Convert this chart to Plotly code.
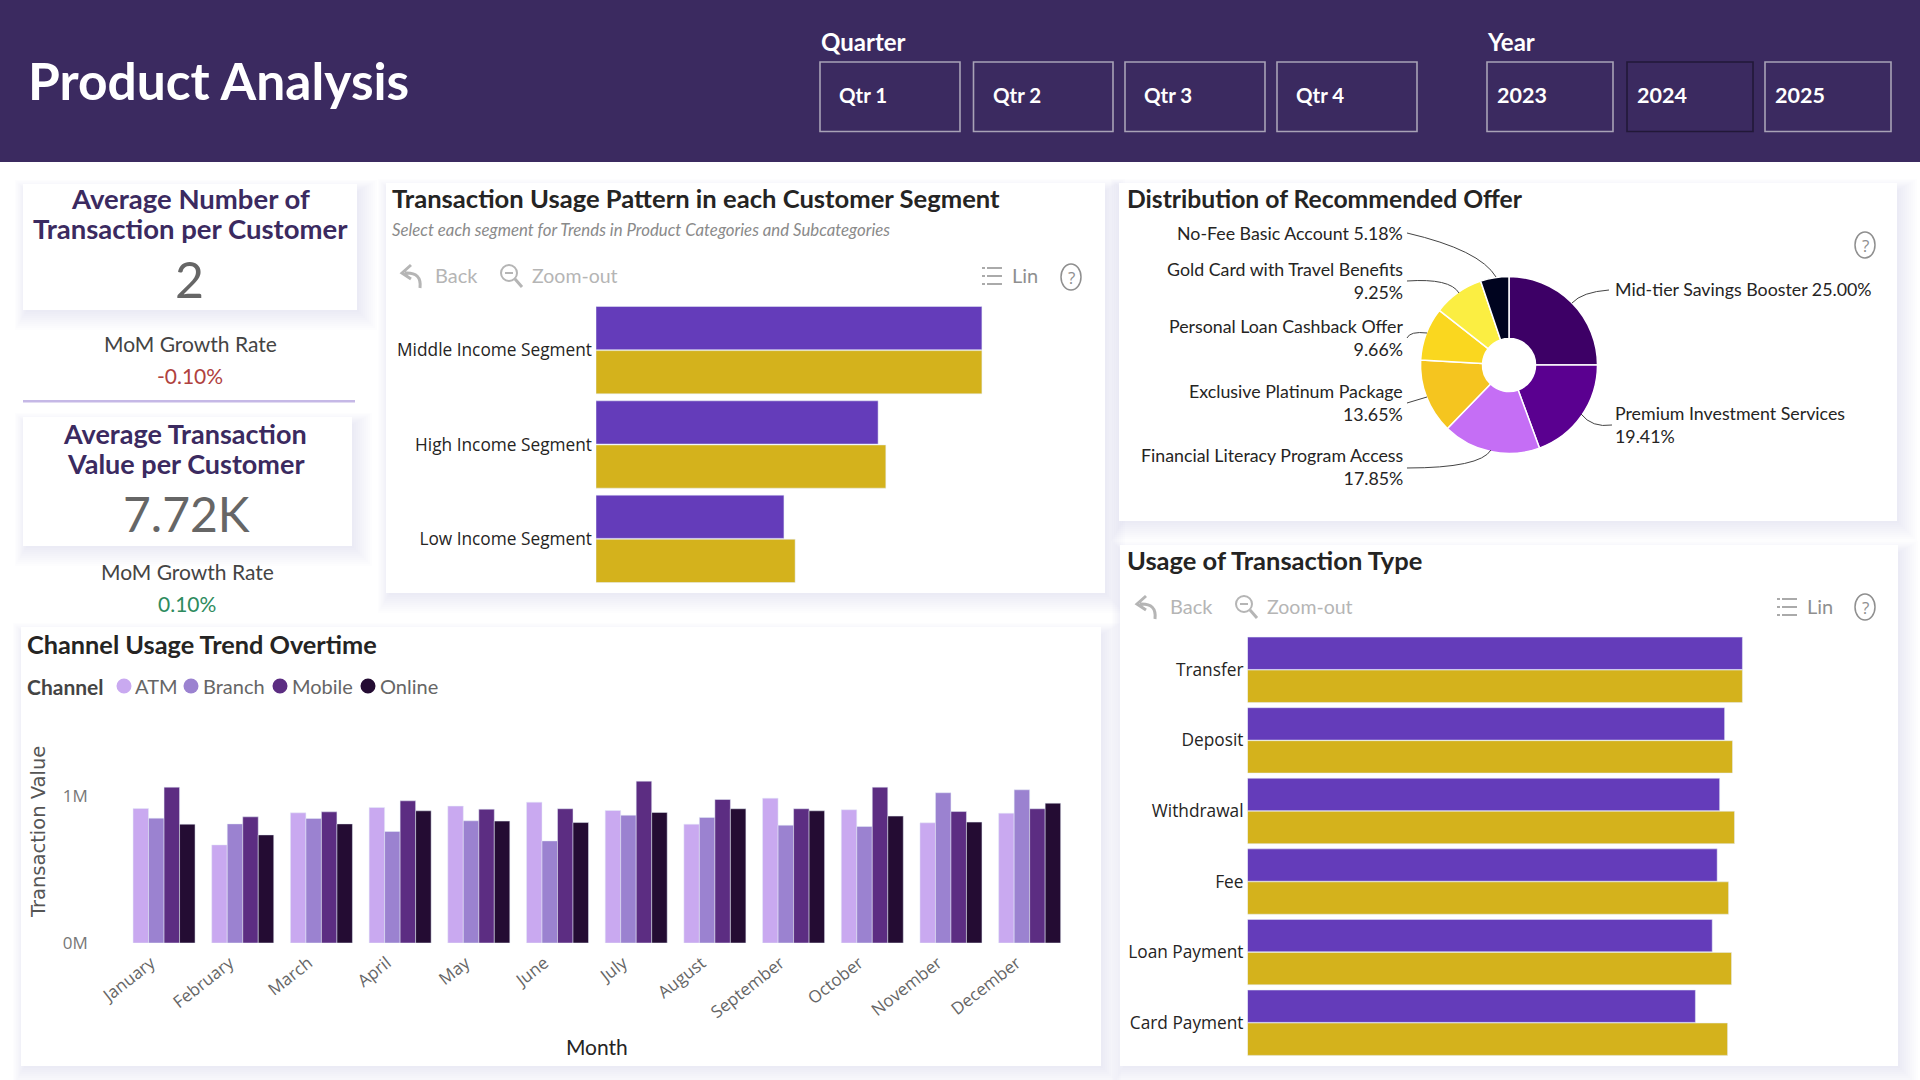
import plotly.graph_objects as go

W, H = 1920, 1080

# ---------- data ----------
segments = ["Middle Income Segment", "High Income Segment", "Low Income Segment"]
segment_primary = [100.0, 73.1, 48.7]
segment_secondary = [100.0, 75.1, 51.6]

txn_types = ["Transfer", "Deposit", "Withdrawal", "Fee", "Loan Payment", "Card Payment"]
txn_primary = [100.0, 96.4, 95.4, 94.9, 93.9, 90.5]
txn_secondary = [100.0, 98.0, 98.4, 97.2, 97.8, 97.0]

offers = ["Mid-tier Savings Booster", "Premium Investment Services",
          "Financial Literacy Program Access", "Exclusive Platinum Package",
          "Personal Loan Cashback Offer", "Gold Card with Travel Benefits",
          "No-Fee Basic Account"]
offer_share = [25.00, 19.41, 17.85, 13.65, 9.66, 9.25, 5.18]
offer_colors = ["#3d0066", "#5a0090", "#c56ef5", "#f5c51f", "#fad71f", "#fbee42", "#00041f"]

months = ["January", "February", "March", "April", "May", "June", "July",
          "August", "September", "October", "November", "December"]
atm = [916000, 668000, 886000, 923000, 932000, 959000, 902000, 809000, 986000, 907000, 818000, 884000]
branch = [850000, 811000, 848000, 759000, 832000, 695000, 870000, 855000, 802000, 793000, 1023000, 1043000]
mobile = [1061000, 859000, 893000, 968000, 911000, 914000, 1102000, 977000, 914000, 1061000, 895000, 914000]
online = [809000, 736000, 811000, 900000, 830000, 820000, 889000, 914000, 900000, 864000, 823000, 952000]
channels = ["ATM", "Branch", "Mobile", "Online"]
channel_colors = ["#c9a9f0", "#9b82d0", "#5c2d82", "#240c33"]

quarters = ["Qtr 1", "Qtr 2", "Qtr 3", "Qtr 4"]
years = ["2023", "2024", "2025"]

# ---------- palette and fonts ----------
HEADER = "#3b2a60"
PURPLE = "#643cba"
GOLD = "#d4b21c"
INK = "#252423"
GREY = "#b5b5b5"
DIN = "Lato, sans-serif"
UI = "Open Sans, sans-serif"


def fx(x):
    return x / W


def fy(y):
    return 1 - y / H


shapes = []
annotations = []


def rect(x0, y0, x1, y1, fill=None, line=None, lw=0, layer="below"):
    shapes.append(dict(type="rect", xref="paper", yref="paper",
                       x0=fx(x0), x1=fx(x1), y0=fy(y0), y1=fy(y1),
                       fillcolor=fill or "rgba(0,0,0,0)",
                       line=dict(color=line or "rgba(0,0,0,0)", width=lw),
                       layer=layer))


def path(points, color, lw=1.0, dash="solid", layer="above"):
    """Polyline/curve given as SVG commands with coordinates in page pixels."""
    parts = []
    for cmd, *xy in points:
        coords = " ".join(f"{fx(xy[i]):.5f},{fy(xy[i + 1]):.5f}" for i in range(0, len(xy), 2))
        parts.append(f"{cmd} {coords}")
    shapes.append(dict(type="path", xref="paper", yref="paper", path=" ".join(parts),
                       line=dict(color=color, width=lw, dash=dash), layer=layer))


def circle(cx, cy, r, fill=None, line=None, lw=0, ry=None):
    ry = ry or r
    shapes.append(dict(type="circle", xref="paper", yref="paper",
                       x0=fx(cx - r), x1=fx(cx + r), y0=fy(cy + ry), y1=fy(cy - ry),
                       fillcolor=fill or "rgba(0,0,0,0)",
                       line=dict(color=line or "rgba(0,0,0,0)", width=lw), layer="above"))


def text(x, y, s, size, color=INK, font=DIN, anchor="left", bold=False, italic=False, angle=0):
    annotations.append(dict(xref="paper", yref="paper", x=fx(x), y=fy(y), text=s,
                            showarrow=False, xanchor=anchor, yanchor="middle",
                            align=anchor, textangle=angle,
                            font=dict(family=font, size=size, color=color,
                                      weight="bold" if bold else "normal",
                                      style="italic" if italic else "normal")))


def cards(boxes):
    # soft lavender drop shadows made of stacked translucent rectangles;
    # every shadow goes down first so that none of them tints a neighbouring card
    for x0, y0, x1, y1 in boxes:
        for off in (20, 18, 16, 14, 12, 10, 8, 6, 4, 2):
            rect(x0 + 4 - off * 0.6, y0 + 8 - off * 0.6, x1 + off, y1 + off,
                 fill="rgba(120,100,210,0.013)")
    for x0, y0, x1, y1 in boxes:
        rect(x0, y0, x1, y1, fill="white")


def help_icon(cx, cy):
    circle(cx, cy, 10, ry=13, line="#8f8f8f", lw=1.5)
    text(cx, cy, "?", 17, color="#8f8f8f", font=UI, anchor="center")


def toolbar(back_x, zoom_x, list_x, cy):
    path([("M", back_x + 9, cy - 11), ("L", back_x, cy - 3), ("L", back_x + 9, cy + 3),
          ("M", back_x + 3, cy - 3), ("Q", back_x + 20, cy - 4, back_x + 18, cy + 12)], GREY, 3)
    text(back_x + 31, cy - 1, "Back", 20, color=GREY)
    circle(zoom_x + 9, cy - 3, 8, line=GREY, lw=2)
    path([("M", zoom_x + 15, cy + 3), ("L", zoom_x + 22, cy + 11)], GREY, 3)
    path([("M", zoom_x + 5, cy - 3), ("L", zoom_x + 13, cy - 3)], GREY, 2)
    text(zoom_x + 30, cy - 1, "Zoom-out", 19.5, color=GREY)
    for dy in (-8, 0, 8):
        path([("M", list_x, cy + dy), ("L", list_x + 3, cy + dy),
              ("M", list_x + 5, cy + dy), ("L", list_x + 20, cy + dy)], "#8f8f8f", 1.6)
    text(list_x + 28, cy - 1, "Lin", 20, color="#8f8f8f")


# ---------- header band ----------
rect(0, 0, W, 162, fill=HEADER)
text(26, 80, "Product Analysis", 51.5, color="white", bold=True)
text(819, 41, "Quarter", 24, color="white", bold=True)
text(1485, 41, "Year", 24, color="white", bold=True)
for label, (x0, x1) in zip(quarters, [(820, 960), (973.5, 1113), (1125, 1265), (1277, 1417)]):
    rect(x0, 62, x1, 131.5, line="#a8a2b6", lw=1.6)
    text(x0 + 17, 95, label, 20.5, color="white", bold=True)
for label, (x0, x1) in zip(years, [(1487, 1613), (1627, 1753), (1765, 1891)]):
    rect(x0, 62, x1, 131.5, line="#221838" if label == "2024" else "#a8a2b6", lw=1.6)
    text(x0 + 8, 95, label, 21.5, color="white", bold=True)

# ---------- panels ----------
cards([(23, 184, 357, 310), (23, 417, 352, 546), (386, 183, 1105, 593),
       (1119, 183, 1897, 521), (21, 627, 1101, 1066), (1120, 545, 1898, 1066)])
rect(23, 400, 355, 402.5, fill="#c5b8e6")

# ---------- KPI blocks ----------
text(190, 198, "Average Number of", 27.5, color=HEADER, anchor="center", bold=True)
text(190, 228, "Transaction per Customer", 27.5, color=HEADER, anchor="center", bold=True)
text(189, 279, "2", 50, color="#666666", anchor="center")
text(190, 343, "MoM Growth Rate", 21, color="#444444", anchor="center")
text(190, 376, "-0.10%", 21, color="#b0413e", anchor="center")
text(185, 433, "Average Transaction", 27, color=HEADER, anchor="center", bold=True)
text(185, 463.5, "Value per Customer", 27, color=HEADER, anchor="center", bold=True)
text(186, 514, "7.72K", 48, color="#666666", anchor="center")
text(187, 571, "MoM Growth Rate", 21, color="#444444", anchor="center")
text(187, 603, "0.10%", 21, color="#2e8b5e", anchor="center")

# ---------- panel headings ----------
text(390, 198, "Transaction Usage Pattern in each Customer Segment", 25.6, bold=True)
text(390, 229, "Select each segment for Trends in Product Categories and Subcategories",
     16.8, color="#8a8a8a", italic=True)
text(1125, 198, "Distribution of Recommended Offer", 24.7, bold=True)
text(25, 644, "Channel Usage Trend Overtime", 25.3, bold=True)
text(1125, 560, "Usage of Transaction Type", 25.5, bold=True)

toolbar(402, 500, 982, 276)
help_icon(1071, 277)
toolbar(1137, 1235, 1777, 607)
help_icon(1865, 607)
help_icon(1865, 245)

# ---------- channel legend ----------
text(25, 686, "Channel", 21, color="#444444", bold=True)
for name, color, mx, tx in zip(channels, channel_colors, [124, 191, 280, 368], [133, 201, 290, 378]):
    circle(mx, 686, 7.5, fill=color)
    text(tx, 686, name, 20, color="#666666")

# value-axis caption for the monthly chart
text(38, 832, "Transaction Value", 19.5, color="#555555", font="DejaVu Sans, sans-serif",
     anchor="center", angle=-90)

fig = go.Figure()

# ---------- customer segment bars ----------
fig.add_bar(y=segments, x=segment_primary, orientation="h", marker_color=PURPLE,
            xaxis="x", yaxis="y", showlegend=False)
fig.add_bar(y=segments, x=segment_secondary, orientation="h", marker_color=GOLD,
            xaxis="x", yaxis="y", showlegend=False)

# ---------- transaction type bars ----------
fig.add_bar(y=txn_types, x=txn_primary, orientation="h", marker_color=PURPLE,
            xaxis="x2", yaxis="y2", showlegend=False)
fig.add_bar(y=txn_types, x=txn_secondary, orientation="h", marker_color=GOLD,
            xaxis="x2", yaxis="y2", showlegend=False)

# ---------- monthly channel columns ----------
# the monthly chart needs a wider category gap than the shared bargap, so it
# sets its own bar width and offset per series
col_width = 0.197
for i, (name, color, vals) in enumerate(zip(channels, channel_colors, [atm, branch, mobile, online])):
    fig.add_trace(go.Bar(x=months, y=vals, name=name, marker_color=color,
                         width=col_width, offset=(i - 2) * col_width,
                         xaxis="x3", yaxis="y3", showlegend=False))

# ---------- offer donut ----------
cx, cy, r = 1509, 365, 88.5
fig.add_trace(go.Pie(labels=offers, values=offer_share, hole=0.3, sort=False,
                     direction="clockwise", rotation=0, textinfo="none",
                     marker=dict(colors=offer_colors, line=dict(color="white", width=1.5)),
                     domain=dict(x=[fx(cx - r), fx(cx + r)], y=[fy(cy + r), fy(cy - r)]),
                     showlegend=False))

# donut callouts: wrapped flag says whether the share sits on its own line
callouts = [
    (0, 1613, 289, "left", False, [("M", 1609, 290), ("Q", 1582, 292, 1572, 303)]),
    (1, 1613, 424, "left", True, [("M", 1612, 425), ("Q", 1592, 428, 1581, 414)]),
    (2, 1405, 467, "right", True, [("M", 1407, 468), ("Q", 1480, 468, 1491, 450)]),
    (3, 1405, 402, "right", True, [("M", 1407, 403), ("L", 1427, 397)]),
    (4, 1405, 338, "right", True, [("M", 1407, 338), ("Q", 1410, 331, 1427, 333)]),
    (5, 1405, 280, "right", True, [("M", 1407, 281), ("Q", 1450, 278, 1459, 293)]),
    (6, 1405, 233, "right", False, [("M", 1407, 233), ("Q", 1480, 250, 1496, 277)]),
]
for idx, tx, ty, anchor, wrapped, leader in callouts:
    sep = "<br>" if wrapped else " "
    text(tx, ty, f"{offers[idx]}{sep}{offer_share[idx]:.2f}%", 17.8, color=INK, anchor=anchor)
    path(leader, "#444444", 1.0)

# ---------- layout ----------
hidden_x = dict(visible=False, fixedrange=True)
fig.update_layout(
    width=W, height=H, margin=dict(l=0, r=0, t=0, b=0, autoexpand=False),
    paper_bgcolor="white", plot_bgcolor="rgba(0,0,0,0)",
    barmode="group", bargap=0.065, bargroupgap=0.02,
    shapes=shapes, annotations=annotations,
    xaxis=dict(domain=[fx(596), fx(1100)], range=[0, 130.6], anchor="y", **hidden_x),
    yaxis=dict(domain=[fy(586), fy(303)], anchor="x", autorange="reversed",
               showline=False, showgrid=False, ticks="", ticklabelstandoff=3,
               tickfont=dict(family=UI, size=17.3, color=INK)),
    xaxis2=dict(domain=[fx(1247.5), fx(1830)], range=[0, 117.7], anchor="y2", **hidden_x),
    yaxis2=dict(domain=[fy(1058), fy(634.5)], anchor="x2", autorange="reversed",
                showline=False, showgrid=False, ticks="", ticklabelstandoff=3,
                tickfont=dict(family=UI, size=17.3, color=INK)),
    xaxis3=dict(domain=[fx(124.7), fx(1069)], anchor="y3", showline=False, showgrid=False,
                ticks="", tickangle=-38, ticklabelshift=-13, ticklabelstandoff=6,
                tickfont=dict(family=UI, size=17, color="#666666"),
                title=dict(text="Month", standoff=18,
                           font=dict(family=DIN, size=21, color=INK))),
    yaxis3=dict(domain=[fy(943), fy(708)], range=[0, 1600000], anchor="x3",
                tickvals=[0, 1000000], ticktext=["0M", "1M"], showline=False,
                showgrid=False, zeroline=False, ticks="", ticklabelstandoff=36,
                tickfont=dict(family=UI, size=17, color="#777777")),
)

fig.write_html("out.html")
